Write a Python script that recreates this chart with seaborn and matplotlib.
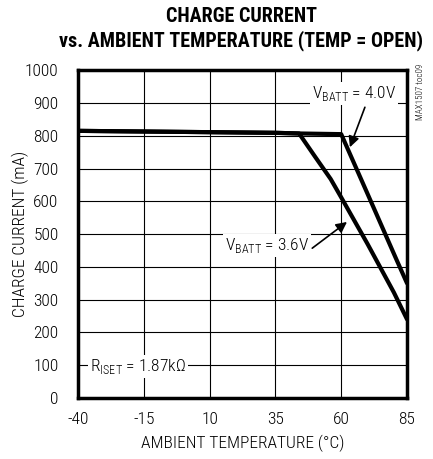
import seaborn as sns
import pandas as pd
import numpy as np
import matplotlib
matplotlib.use('Agg')
import matplotlib.pyplot as plt

# Curve data
temp_36 = [-40, -15, 10, 35, 44, 50, 56, 60, 70, 80, 85]
curr_36 = [815, 813, 811, 809, 807, 737, 668, 612, 470, 322, 240]
temp_40 = [-40, -15, 10, 35, 44, 60, 70, 81, 85]
curr_40 = [815, 813, 811, 809, 807, 805, 623, 422, 350]

x_ticks = [-40, -15, 10, 35, 60, 85]
y_ticks = list(range(0, 1001, 100))

df = pd.concat([
    pd.DataFrame({'temp': temp_36, 'current': curr_36, 'vbatt': '3.6V'}),
    pd.DataFrame({'temp': temp_40, 'current': curr_40, 'vbatt': '4.0V'}),
])

sns.set_style('white')
plt.rcParams['font.family'] = ['Roboto Condensed', 'DejaVu Sans']
plt.rcParams['font.weight'] = 'light'
plt.rcParams['axes.unicode_minus'] = False
plt.rcParams['text.color'] = 'black'
plt.rcParams['xtick.color'] = 'black'
plt.rcParams['ytick.color'] = 'black'
plt.rcParams['axes.labelcolor'] = 'black'
plt.rcParams['axes.labelweight'] = 'light'
plt.rcParams['mathtext.fontset'] = 'custom'
plt.rcParams['mathtext.rm'] = 'Roboto Condensed:light'

fig = plt.figure(figsize=(4.33, 4.59), dpi=100)
ax = fig.add_axes([0.180, 0.133, 0.760, 0.714])

for v in ['3.6V', '4.0V']:
    sub = df[df['vbatt'] == v]
    sns.lineplot(data=sub, x='temp', y='current', color='black', linewidth=3,
                 ax=ax, legend=False, sort=False, zorder=4)

ax.set_xlim(-40, 85)
ax.set_ylim(0, 1000)
ax.set_xticks(x_ticks)
ax.set_yticks(y_ticks)
ax.grid(True, color='black', linewidth=0.8, zorder=1)
ax.tick_params(axis='y', length=0, labelsize=12.5, pad=14)
ax.tick_params(axis='x', length=0, labelsize=12.5, pad=10)
for s in ax.spines.values():
    s.set_linewidth(2.5)
    s.set_color('black')

ax.set_xlabel('AMBIENT TEMPERATURE (°C)', fontsize=12.5, labelpad=6)
ax.set_ylabel('CHARGE CURRENT (mA)', fontsize=12.5)
ax.yaxis.set_label_coords(-0.148, 0.5)

fig.text(0.558, 0.965, 'CHARGE CURRENT', ha='center', va='center',
         fontsize=14.5, fontweight='black')
fig.text(0.556, 0.912, 'vs. AMBIENT TEMPERATURE (TEMP = OPEN)', ha='center',
         va='center', fontsize=14.5, fontweight='black')

box = dict(facecolor='white', edgecolor='none', pad=1.5)
arrow = dict(arrowstyle='-|>', color='black', lw=1.2, shrinkA=0, shrinkB=0,
             mutation_scale=16)

ax.text(64.9, 930, 'V$_{\\mathrm{BATT}}$ = 4.0V', ha='center', va='center',
        fontsize=12.5, bbox=box, zorder=5)
ax.annotate('', xy=(63.3, 765), xytext=(69, 887), arrowprops=arrow, zorder=5)

ax.text(31.8, 466, 'V$_{\\mathrm{BATT}}$ = 3.6V', ha='center', va='center',
        fontsize=12.5, bbox=box, zorder=5)
ax.annotate('', xy=(62.2, 537), xytext=(49, 457), arrowprops=arrow, zorder=5)

ax.text(-35.4, 95, 'R$_{\\mathrm{ISET}}$ = 1.87k\u03a9', ha='left', va='center',
        fontsize=12.5, bbox=box, zorder=5)

fig.text(0.970, 0.80, 'MAX1507 toc09', rotation=90, ha='center', va='center',
         fontsize=6.5)

fig.savefig('out.png', dpi=100)
